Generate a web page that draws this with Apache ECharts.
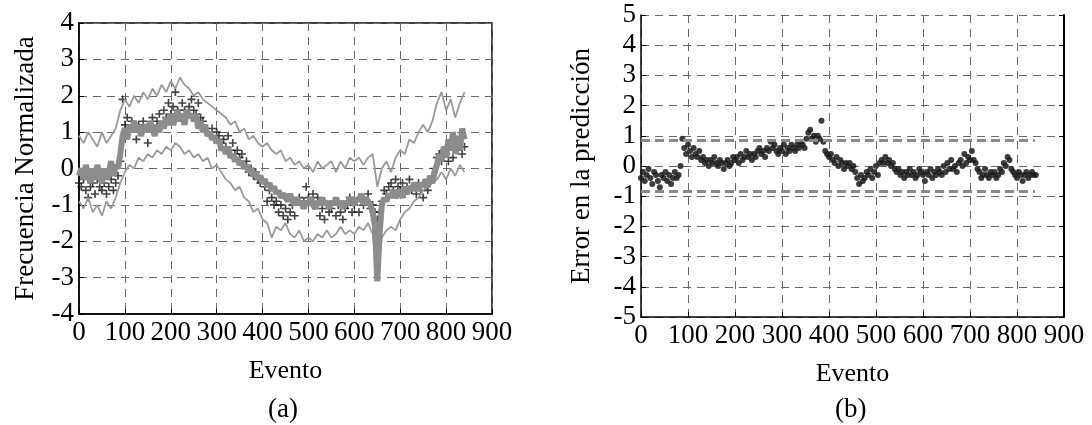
<!DOCTYPE html>
<html><head><meta charset="utf-8">
<script src="https://cdn.jsdelivr.net/npm/echarts@6/dist/echarts.min.js"></script>
<style>html,body{margin:0;padding:0;background:#fff}#c{width:1092px;height:425px}</style>
</head><body><div id="c"></div>
<script>
// ---- data ----
const xTickMin = 0, xTickMax = 900, xTickStep = 100;
const leftYMin = -4, leftYMax = 4;
const rightYMin = -5, rightYMax = 5;
const panelLabels = ['(a)', '(b)'];

// Panel (a): predicted normalised frequency (thick grey), every 5 events
const predStep = 5;
const predicted = [
 -0.2, 0.0, -0.3, 0.1, -0.2, -0.4, 0.0, -0.3, 0.1, -0.2,
 -0.4, 0.0, -0.3, -0.1, 0.2, -0.2, 0.1, 0.0, 0.4, 0.9,
 1.1, 0.8, 1.2, 1.0, 1.3, 1.0, 1.2, 0.9, 1.1, 1.2,
 1.0, 1.3, 1.1, 0.9, 1.2, 1.0, 1.3, 1.1, 1.4, 1.2,
 1.5, 1.2, 1.4, 1.6, 1.3, 1.5, 1.2, 1.6, 1.4, 1.5,
 1.3, 1.5, 1.1, 1.3, 1.0, 1.2, 0.9, 1.0, 0.8, 0.9,
 0.7, 0.8, 0.5, 0.6, 0.4, 0.6, 0.3, 0.4, 0.2, 0.3,
 0.1, 0.2, 0.0, 0.1, -0.1, 0.0, -0.2, -0.1, -0.3, -0.2,
 -0.4, -0.3, -0.5, -0.4, -0.6, -0.5, -0.7, -0.6, -0.8, -0.7,
 -0.8, -0.9, -0.7, -0.9, -1.0, -0.8, -1.0, -0.9, -1.1, -0.9,
 -1.0, -0.8, -1.0, -1.1, -0.9, -1.0, -0.8, -1.0, -0.9, -1.1,
 -0.9, -1.0, -0.8, -1.0, -0.9, -1.1, -0.9, -1.0, -0.8, -0.9,
 -1.0, -0.8, -0.9, -0.7, -1.0, -0.8, -0.9, -1.0, -1.2, -1.6,
 -3.1, -1.8, -1.0, -0.8, -0.9, -0.7, -0.8, -0.6, -0.8, -0.7,
 -0.6, -0.8, -0.5, -0.7, -0.5, -0.6, -0.4, -0.5, -0.6, -0.4,
 -0.5, -0.3, -0.5, -0.2, -0.4, -0.1, 0.1, 0.4, 0.2, 0.6,
 0.3, 0.8, 0.5, 1.0, 0.4, 0.9, 0.5, 1.1, 0.8
];

// Panel (a): upper and lower bounds (thin grey), every 10 events
const bandStep = 10;
const upperBand = [
 0.9, 0.7, 1.0, 0.8, 0.6, 1.0, 0.7, 0.9, 1.1, 1.6,
 1.9, 1.7, 2.0, 1.8, 2.1, 1.9, 2.2, 2.0, 2.3, 2.1,
 2.4, 2.2, 2.5, 2.3, 2.2, 2.0, 2.1, 1.9, 1.8, 1.7,
 1.6, 1.5, 1.4, 1.2, 1.3, 1.0, 1.1, 0.8, 0.9, 0.7,
 0.6, 0.7, 0.5, 0.4, 0.5, 0.2, 0.3, 0.1, 0.2, 0.0,
 0.1, -0.1, 0.2, 0.0, 0.1, 0.2, -0.1, 0.2, 0.0, 0.3,
 0.2, 0.3, 0.1, 0.3, 0.4, -0.5, 0.0, 0.2, -0.1, 0.3,
 0.5, 0.4, 0.8, 0.7, 1.0, 1.2, 1.0, 1.3, 1.8, 2.1,
 1.6, 1.9, 1.4, 1.8, 2.1
];
const lowerBand = [
 -0.9, -1.1, -0.8, -1.2, -1.0, -1.3, -0.9, -1.1, -0.8, -0.4,
 -0.1, 0.1, 0.0, 0.3, 0.2, 0.4, 0.3, 0.5, 0.4, 0.6,
 0.5, 0.7, 0.6, 0.4, 0.5, 0.3, 0.4, 0.2, 0.3, 0.0,
 0.1, -0.1, -0.3, -0.4, -0.6, -0.5, -0.8, -0.9, -1.2, -1.1,
 -1.4, -1.5, -1.9, -1.6, -1.7, -1.5, -1.8, -1.9, -1.7, -2.0,
 -1.9, -2.0, -1.8, -1.9, -1.7, -1.9, -1.8, -1.6, -1.8, -1.7,
 -1.8, -1.6, -1.7, -1.5, -1.8, -3.0, -1.9, -1.7, -1.6, -1.7,
 -1.4, -1.2, -1.1, -0.9, -0.8, -0.6, -0.5, -0.4, -0.3, -0.1,
 -0.3, 0.0, -0.2, 0.1, -0.1
];

// Panel (a): measured values (black +), every 5 events
const actualStep = 5;
const actual = [
 -0.4, -0.5, -0.3, -0.6, -0.8, -0.5, -0.4, -0.7, -0.3, -0.5,
 -0.6, -0.4, -0.7, -0.5, -0.3, -0.6, -0.4, -0.2, 0.2, 1.9,
 1.2, 1.4, 1.0, 1.3, 1.1, 0.8, 1.2, 1.0, 1.3, 1.1,
 0.7, 1.2, 1.4, 1.1, 1.3, 1.5, 1.2, 1.6, 1.4, 1.8,
 1.5, 1.7, 2.1, 1.6, 1.4, 1.8, 1.6, 1.5, 1.7, 1.9,
 1.6, 1.5, 1.8, 1.4, 1.3, 1.1, 1.0, 0.9, 1.1, 0.8,
 1.0, 0.9, 0.7, 0.8, 0.6, 0.9, 0.5, 0.7, 0.4, 0.5,
 0.3, 0.4, 0.1, 0.2, -0.1, 0.0, -0.2, -0.1, -0.3, -0.4,
 -0.3, -0.5, -0.9, -0.6, -0.8, -1.0, -0.9, -1.2, -1.0, -1.3,
 -1.1, -1.4, -1.2, -1.0, -1.3, -0.9, -0.8, -1.0, -0.9, -0.5,
 -0.8, -0.9, -0.7, -1.0, -0.8, -1.3, -1.1, -1.4, -1.0, -1.2,
 -1.1, -0.9, -1.3, -1.0, -1.2, -1.4, -1.1, -1.0, -0.8, -1.2,
 -1.0, -0.9, -1.2, -0.8, -1.0, -0.9, -0.7, -1.1, -1.0, -1.2,
 -1.4, -1.2, -0.9, -0.6, -0.7, -0.5, -0.4, -0.6, -0.3, -0.5,
 -0.6, -0.4, -0.7, -0.5, -0.3, -0.6, -0.5, -0.7, -0.4, -0.6,
 -0.8, -0.5, -0.6, -0.4, -0.2, 0.0, 0.3, 0.4, 0.2, 0.5,
 0.4, 0.2, 0.6, 0.3, 0.7, 0.5, 0.8, 0.4, 0.6
];

// Panel (b): prediction error (black dots), every 4 events
const errorStep = 4;
const predError = [
 -0.4, -0.2, -0.5, -0.3, -0.1, -0.4, -0.6, -0.2, -0.3, -0.5,
 -0.7, -0.3, -0.4, -0.2, -0.5, -0.3, -0.6, -0.4, -0.2, -0.4,
 -0.3, 0.0, 0.9, 0.6, 0.4, 0.7, 0.5, 0.3, 0.6, 0.4,
 0.3, 0.5, 0.2, 0.3, 0.1, 0.2, 0.0, 0.2, 0.1, 0.3,
 0.1, 0.0, 0.2, 0.1, -0.1, 0.1, 0.2, 0.0, 0.1, 0.3,
 0.2, 0.3, 0.1, 0.4, 0.2, 0.3, 0.5, 0.3, 0.4, 0.2,
 0.4, 0.3, 0.5, 0.6, 0.4, 0.5, 0.3, 0.6, 0.5, 0.8,
 0.6, 0.7, 0.5, 0.4, 0.6, 0.5, 0.7, 0.4, 0.6, 0.5,
 0.7, 0.6, 0.5, 0.7, 0.6, 0.8, 0.7, 0.6, 0.9, 1.1,
 1.2, 0.9, 1.0, 0.8, 1.0, 0.9, 1.5, 0.8, 0.5, 0.4,
 0.3, 0.4, 0.2, 0.1, 0.3, 0.0, 0.2, 0.1, -0.1, 0.1,
 0.0, 0.1, -0.1, 0.0, -0.2, -0.4, -0.6, -0.3, -0.5, -0.4,
 -0.2, -0.3, -0.1, -0.4, -0.2, 0.0, -0.3, 0.1, 0.2, 0.1,
 0.3, 0.1, 0.2, 0.0, 0.1, -0.1, -0.2, -0.1, -0.3, -0.2,
 -0.4, -0.2, -0.3, -0.1, -0.3, -0.2, -0.4, -0.3, -0.1, -0.2,
 -0.3, -0.5, -0.2, -0.3, -0.1, -0.4, -0.2, -0.3, -0.1, -0.2,
 -0.3, 0.0, -0.2, 0.1, -0.1, 0.2, -0.1, 0.0, -0.2, 0.1,
 0.2, 0.0, 0.4, 0.1, 0.3, 0.2, 0.5, 0.2, 0.1, -0.1,
 -0.2, -0.4, -0.3, -0.1, -0.3, -0.4, -0.2, -0.3, -0.2, -0.4,
 -0.3, -0.1, -0.2, 0.1, 0.0, 0.3, 0.2, -0.1, -0.2, -0.3,
 -0.4, -0.2, -0.3, -0.5, -0.3, -0.2, -0.4, -0.3, -0.2, -0.3,
 -0.3
];
const errorLimits = [0.85, -0.85];
const errorLimitEnd = 838;

// ---- build chart ----
const pairs = (arr, step) => arr.map((v, i) => [i * step, v]);
const FONT = 'Liberation Serif';
const tickLbl = { fontFamily: FONT, fontSize: 27, color: '#000', margin: 5 };
const split = { show: true, lineStyle: { color: '#6a6a6a', type: [8, 6], width: 1 } };
const tick = { show: true, inside: true, length: 5, lineStyle: { color: '#000' } };
const axLine = { show: true, onZero: false, lineStyle: { color: '#000', width: 1.5 } };

function xAx(gi) {
  return {
    type: 'value', gridIndex: gi, min: xTickMin, max: xTickMax, interval: xTickStep,
    name: 'Evento', nameLocation: 'middle', nameGap: 44,
    nameTextStyle: { fontFamily: FONT, fontSize: 26, color: '#000' },
    axisLabel: tickLbl, axisLine: axLine, axisTick: tick, splitLine: split
  };
}
function yAx(gi, mn, mx, name, gap) {
  return {
    type: 'value', gridIndex: gi, min: mn, max: mx, interval: 1,
    name: name, nameLocation: 'middle', nameGap: gap,
    nameTextStyle: { fontFamily: FONT, fontSize: 27, color: '#000' },
    axisLabel: tickLbl, axisLine: axLine, axisTick: tick, splitLine: split
  };
}

const plus = 'path://M4,0H6V4H10V6H6V10H4V6H0V4H4Z';

const option = {
  animation: false,
  backgroundColor: '#fff',
  grid: [
    { left: 79, top: 23, width: 413, height: 291, show: true, borderColor: '#000', borderWidth: 1.5, backgroundColor: 'transparent' },
    { left: 641, top: 15, width: 423, height: 302 }
  ],
  xAxis: [xAx(0), xAx(1)],
  yAxis: [
    yAx(0, leftYMin, leftYMax, 'Frecuencia Normalizada', 40),
    yAx(1, rightYMin, rightYMax, 'Error en la predicción', 46),
    { type: 'value', gridIndex: 1, position: 'right', min: rightYMin, max: rightYMax, interval: 1,
      axisLabel: { show: false }, axisLine: { show: true, onZero: false, lineStyle: { color: '#000', width: 2 } },
      axisTick: tick, splitLine: { show: false } }
  ],
  series: [
    { type: 'line', xAxisIndex: 0, yAxisIndex: 0, data: pairs(upperBand, bandStep), showSymbol: false,
      lineStyle: { color: '#9a9a9a', width: 1.8 } },
    { type: 'line', xAxisIndex: 0, yAxisIndex: 0, data: pairs(lowerBand, bandStep), showSymbol: false,
      lineStyle: { color: '#9a9a9a', width: 1.8 } },
    { type: 'line', xAxisIndex: 0, yAxisIndex: 0, data: pairs(predicted, predStep), showSymbol: false,
      lineStyle: { color: '#8c8c8c', width: 6 } },
    { type: 'scatter', xAxisIndex: 0, yAxisIndex: 0, data: pairs(actual, actualStep),
      symbol: plus, symbolSize: 8, itemStyle: { color: '#111' } },
    { type: 'scatter', xAxisIndex: 1, yAxisIndex: 1, data: pairs(predError, errorStep),
      symbol: 'circle', symbolSize: 6, itemStyle: { color: '#1a1a1a', opacity: 0.85 },
      markLine: {
        silent: true, symbol: 'none', label: { show: false },
        lineStyle: { color: '#8a8a8a', type: [9, 5], width: 3 },
        data: errorLimits.map(v => [{ coord: [xTickMin, v] }, { coord: [errorLimitEnd, v] }])
      } }
  ],
  graphic: [
    { type: 'text', left: 285 - 17, top: 396, style: { text: panelLabels[0], font: '27px "Liberation Serif"', fill: '#000' } },
    { type: 'text', left: 852 - 17, top: 396, style: { text: panelLabels[1], font: '27px "Liberation Serif"', fill: '#000' } }
  ]
};
const chart = echarts.init(document.getElementById('c'), null, { renderer: 'canvas' });
chart.setOption(option);
</script></body></html>
